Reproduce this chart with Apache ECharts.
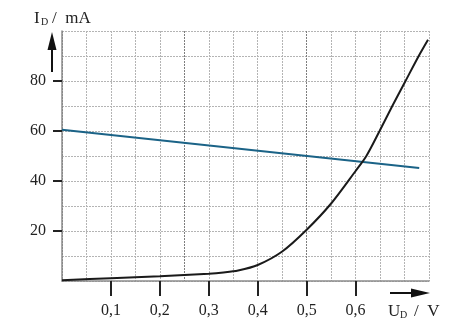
<!DOCTYPE html>
<html><head><meta charset="utf-8">
<script src="https://cdn.jsdelivr.net/npm/echarts@6/dist/echarts.min.js"></script>
<style>html,body{margin:0;padding:0;background:#fff}#c{width:463px;height:333px}</style>
</head><body><div id="c"></div>
<script>
// Data
const diodeU = [0, 0.1, 0.2, 0.3, 0.33, 0.36, 0.4, 0.45, 0.5, 0.55, 0.6, 0.622, 0.649, 0.675, 0.702, 0.729, 0.748];
const diodeI = [0.3, 1.1, 1.9, 2.9, 3.4, 4.2, 6.4, 11.8, 20.5, 31, 44, 50, 60, 70, 80, 90, 96.5];
const loadU = [0, 0.73];
const loadI = [60.5, 45.2];
const xTickValues = [0.1, 0.2, 0.3, 0.4, 0.5, 0.6];
const yTickValues = [20, 40, 60, 80];

const serif = '"Liberation Serif", "DejaVu Serif", serif';
const chart = echarts.init(document.getElementById('c'));
const L = '#b4b4b4', D = '#7e7e7e';
const xGridColors = [D, L, L, L, L, D, L, L, L, L, D, L, L, L, L, L];
const dash = [2, 1];
chart.setOption({
  animation: false,
  grid: {left: 62, top: 31, right: 34, bottom: 52},
  xAxis: [{
    type: 'value', min: 0, max: 0.75, interval: 0.05,
    axisLine: {show: false}, axisTick: {show: false}, axisLabel: {show: false},
    splitLine: {show: true, showMinLine: true, showMaxLine: true, lineStyle: {color: xGridColors, type: dash, width: 1}}
  }, {
    type: 'value', min: 0, max: 0.75, position: 'bottom',
    axisLine: {show: true, lineStyle: {color: '#8c8c8c', width: 1.5}},
    axisTick: {show: true, customValues: xTickValues, length: 15, lineStyle: {color: '#222', width: 2}},
    axisLabel: {customValues: xTickValues, margin: 22, color: '#222', fontFamily: serif, fontSize: 16,
      formatter: v => String(Math.round(v * 10) / 10).replace('.', ',')},
    splitLine: {show: false}
  }],
  yAxis: [{
    type: 'value', min: 0, max: 100, interval: 10,
    axisLine: {show: false}, axisTick: {show: false}, axisLabel: {show: false},
    splitLine: {show: true, showMinLine: true, showMaxLine: true, lineStyle: {color: L, type: dash, width: 1}}
  }, {
    type: 'value', min: 0, max: 100, position: 'left',
    axisLine: {show: true, lineStyle: {color: '#8c8c8c', width: 1.5}},
    axisTick: {show: true, customValues: yTickValues, length: 9, lineStyle: {color: '#222', width: 2}},
    axisLabel: {customValues: yTickValues, margin: 16, color: '#222', fontFamily: serif, fontSize: 16},
    splitLine: {show: false}
  }],
  series: [
    {type: 'line', xAxisIndex: 1, yAxisIndex: 1, data: loadU.map((u, i) => [u, loadI[i]]), symbol: 'none',
      lineStyle: {color: '#1b6387', width: 2}, z: 3},
    {type: 'line', xAxisIndex: 1, yAxisIndex: 1, data: diodeU.map((u, i) => [u, diodeI[i]]), symbol: 'none',
      smooth: 0.3,
      lineStyle: {color: '#1a1a1a', width: 2}, z: 4}
  ],
  graphic: [
    {type: 'text', left: 34, top: 10, style: {text: 'I', font: '17px ' + serif, fill: '#222'}},
    {type: 'text', left: 41, top: 17, style: {text: 'D', font: '10px ' + serif, fill: '#222'}},
    {type: 'text', left: 52, top: 10, style: {text: '/  mA', font: '17px ' + serif, fill: '#222'}},
    {type: 'line', shape: {x1: 52, y1: 72, x2: 52, y2: 48}, style: {stroke: '#111', lineWidth: 2}},
    {type: 'polygon', shape: {points: [[52, 32], [47.5, 50], [56.5, 50]]}, style: {fill: '#111'}},
    {type: 'line', shape: {x1: 390, y1: 293, x2: 414, y2: 293}, style: {stroke: '#111', lineWidth: 2}},
    {type: 'polygon', shape: {points: [[430, 293], [411, 288.5], [411, 297.5]]}, style: {fill: '#111'}},
    {type: 'text', left: 388, top: 303, style: {text: 'U', font: '17px ' + serif, fill: '#222'}},
    {type: 'text', left: 400, top: 310, style: {text: 'D', font: '10px ' + serif, fill: '#222'}},
    {type: 'text', left: 414, top: 303, style: {text: '/  V', font: '17px ' + serif, fill: '#222'}}
  ]
});
</script></body></html>
